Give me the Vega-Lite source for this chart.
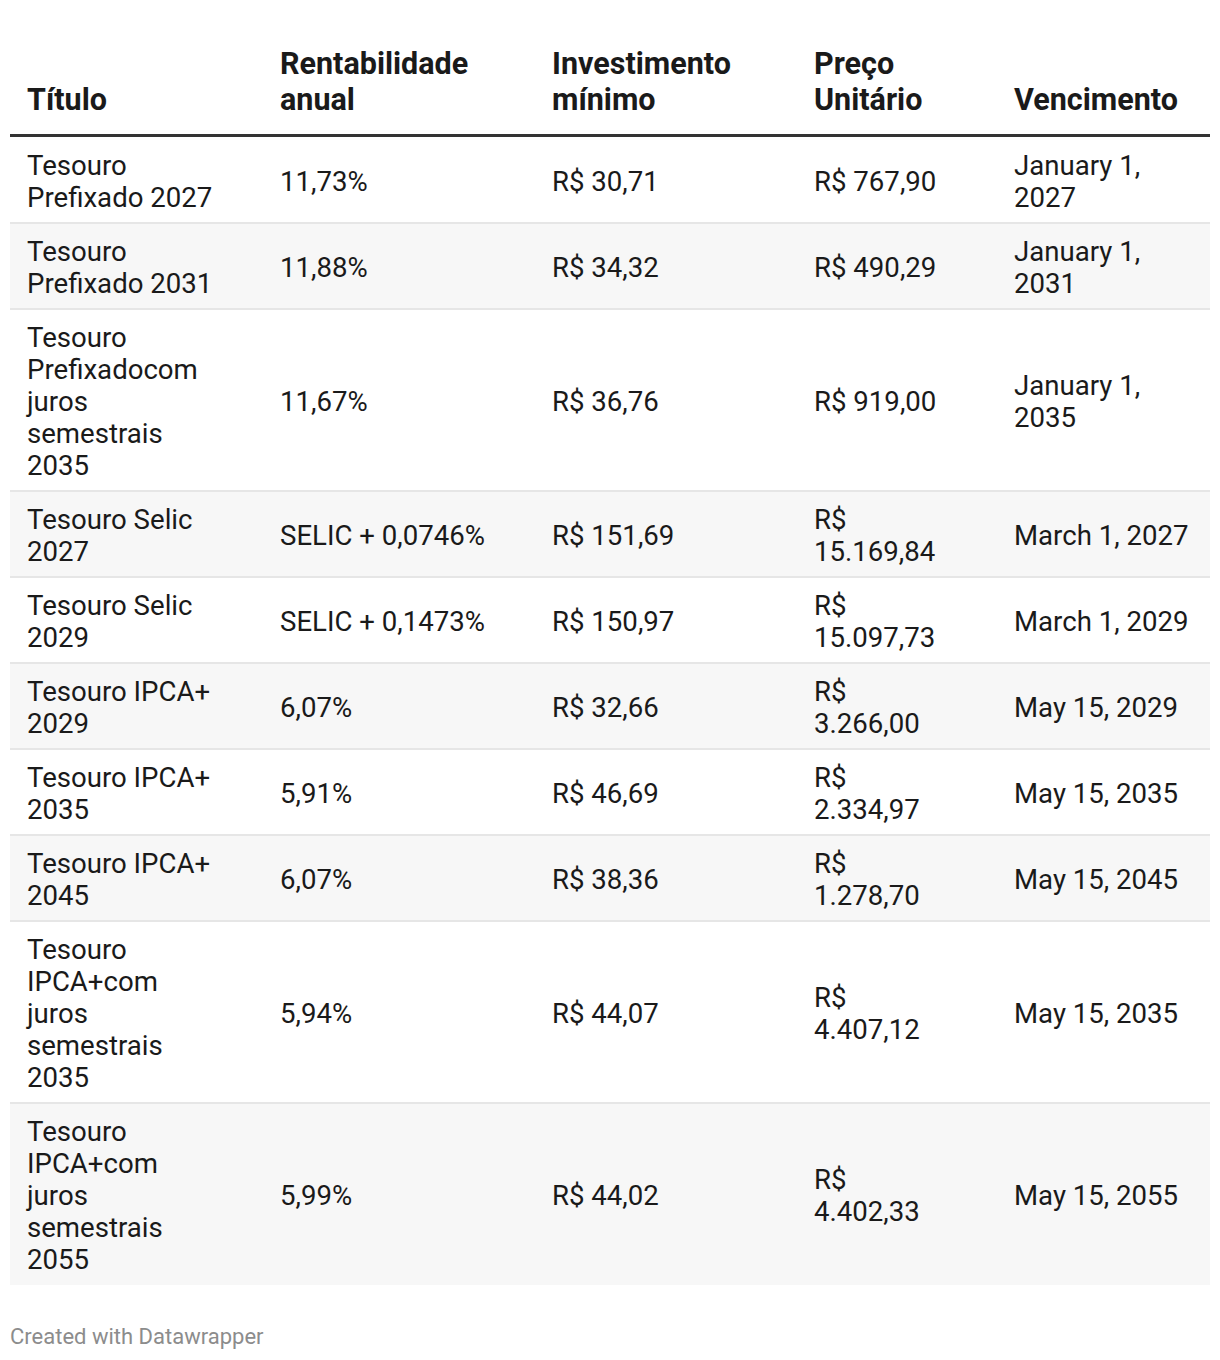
{
  "$schema": "https://vega.github.io/schema/vega-lite/v6.json",
  "width": 1220,
  "height": 1360,
  "padding": 0,
  "autosize": {"type": "none"},
  "background": "white",
  "config": {"view": {"stroke": null}, "text": {"font": "Roboto"}},
  "datasets": {
    "tabela": [
      {"row": 1, "titulo": "Tesouro\nPrefixado 2027", "rent": "11,73%", "inv": "R$ 30,71", "preco": "R$ 767,90", "venc": "January 1,\n2027"},
      {"row": 2, "titulo": "Tesouro\nPrefixado 2031", "rent": "11,88%", "inv": "R$ 34,32", "preco": "R$ 490,29", "venc": "January 1,\n2031"},
      {"row": 3, "titulo": "Tesouro\nPrefixadocom\njuros\nsemestrais\n2035", "rent": "11,67%", "inv": "R$ 36,76", "preco": "R$ 919,00", "venc": "January 1,\n2035"},
      {"row": 4, "titulo": "Tesouro Selic\n2027", "rent": "SELIC + 0,0746%", "inv": "R$ 151,69", "preco": "R$\n15.169,84", "venc": "March 1, 2027"},
      {"row": 5, "titulo": "Tesouro Selic\n2029", "rent": "SELIC + 0,1473%", "inv": "R$ 150,97", "preco": "R$\n15.097,73", "venc": "March 1, 2029"},
      {"row": 6, "titulo": "Tesouro IPCA+\n2029", "rent": "6,07%", "inv": "R$ 32,66", "preco": "R$\n3.266,00", "venc": "May 15, 2029"},
      {"row": 7, "titulo": "Tesouro IPCA+\n2035", "rent": "5,91%", "inv": "R$ 46,69", "preco": "R$\n2.334,97", "venc": "May 15, 2035"},
      {"row": 8, "titulo": "Tesouro IPCA+\n2045", "rent": "6,07%", "inv": "R$ 38,36", "preco": "R$\n1.278,70", "venc": "May 15, 2045"},
      {"row": 9, "titulo": "Tesouro\nIPCA+com\njuros\nsemestrais\n2035", "rent": "5,94%", "inv": "R$ 44,07", "preco": "R$\n4.407,12", "venc": "May 15, 2035"},
      {"row": 10, "titulo": "Tesouro\nIPCA+com\njuros\nsemestrais\n2055", "rent": "5,99%", "inv": "R$ 44,02", "preco": "R$\n4.402,33", "venc": "May 15, 2055"}
    ],
    "cabecalho": [
      {"col": "titulo", "label": "Título"},
      {"col": "rent", "label": "Rentabilidade\nanual"},
      {"col": "inv", "label": "Investimento\nmínimo"},
      {"col": "preco", "label": "Preço\nUnitário"},
      {"col": "venc", "label": "Vencimento"}
    ],
    "rodape": [{"t": "Created with Datawrapper"}]
  },
  "layer": [
    {
      "data": {"name": "tabela"},
      "transform": [
        {"calculate": "max(length(split(datum.titulo,'\\n')), length(split(datum.rent,'\\n')), length(split(datum.inv,'\\n')), length(split(datum.preco,'\\n')), length(split(datum.venc,'\\n')))", "as": "lines"},
        {"calculate": "datum.lines * 32 + 22", "as": "h"},
        {"window": [{"op": "sum", "field": "h", "as": "cum"}], "sort": [{"field": "row"}], "frame": [null, 0]},
        {"calculate": "137 + datum.cum", "as": "y1"},
        {"calculate": "datum.y1 - datum.h", "as": "y0"},
        {"calculate": "(datum.y0 + datum.y1) / 2", "as": "ymid"}
      ],
      "layer": [
        {
          "transform": [{"filter": "datum.row % 2 == 0"}],
          "mark": {"type": "rect", "fill": "#f7f7f7"},
          "encoding": {
            "x": {"value": 10},
            "x2": {"value": 1210},
            "y": {"field": "y0", "type": "quantitative", "scale": {"domain": [0, 1360], "reverse": true, "nice": false, "zero": false}, "axis": null},
            "y2": {"field": "y1"}
          }
        },
        {
          "transform": [{"filter": "datum.row < 10"}],
          "mark": {"type": "rule", "stroke": "#e6e6e6", "strokeWidth": 2},
          "encoding": {
            "x": {"value": 10},
            "x2": {"value": 1210},
            "y": {"field": "y1", "type": "quantitative", "axis": null}
          }
        },
        {
          "transform": [
            {"fold": ["titulo", "rent", "inv", "preco", "venc"], "as": ["col", "texto"]},
            {"calculate": "indexof(['titulo','rent','inv','preco','venc'], datum.col)", "as": "ci"},
            {"calculate": "datum.ymid + 2.5 - (length(split(datum.texto,'\\n')) - 1) * 16", "as": "yt"}
          ],
          "mark": {"type": "text", "align": "left", "baseline": "middle", "fontSize": 27.6, "lineHeight": 32, "lineBreak": "\n", "fill": "#1a1a1a"},
          "encoding": {
            "x": {"field": "ci", "type": "quantitative", "scale": {"domain": [0, 1, 2, 3, 4], "range": [27, 280, 552, 814, 1014], "nice": false, "zero": false}, "axis": null},
            "y": {"field": "yt", "type": "quantitative", "axis": null},
            "text": {"field": "texto", "type": "nominal"}
          }
        }
      ]
    },
    {
      "data": {"values": [{"linha": "cabecalho"}]},
      "mark": {"type": "rule", "stroke": "#333333", "strokeWidth": 3},
      "encoding": {
        "x": {"value": 10},
        "x2": {"value": 1210},
        "y": {"datum": 135.5, "type": "quantitative", "axis": null}
      }
    },
    {
      "data": {"name": "cabecalho"},
      "transform": [
        {"calculate": "indexof(['titulo','rent','inv','preco','venc'], datum.col)", "as": "ci"},
        {"calculate": "101 - (length(split(datum.label,'\\n')) - 1) * 36", "as": "yt"}
      ],
      "mark": {"type": "text", "align": "left", "baseline": "middle", "fontSize": 30.5, "fontWeight": "bold", "lineHeight": 36, "lineBreak": "\n", "fill": "#1a1a1a"},
      "encoding": {
        "x": {"field": "ci", "type": "quantitative", "axis": null},
        "y": {"field": "yt", "type": "quantitative", "axis": null},
        "text": {"field": "label", "type": "nominal"}
      }
    },
    {
      "data": {"name": "rodape"},
      "mark": {"type": "text", "align": "left", "baseline": "middle", "fontSize": 22, "fill": "#8c8c8c"},
      "encoding": {
        "x": {"value": 10},
        "y": {"datum": 1337, "type": "quantitative", "axis": null},
        "text": {"field": "t", "type": "nominal"}
      }
    }
  ]
}
